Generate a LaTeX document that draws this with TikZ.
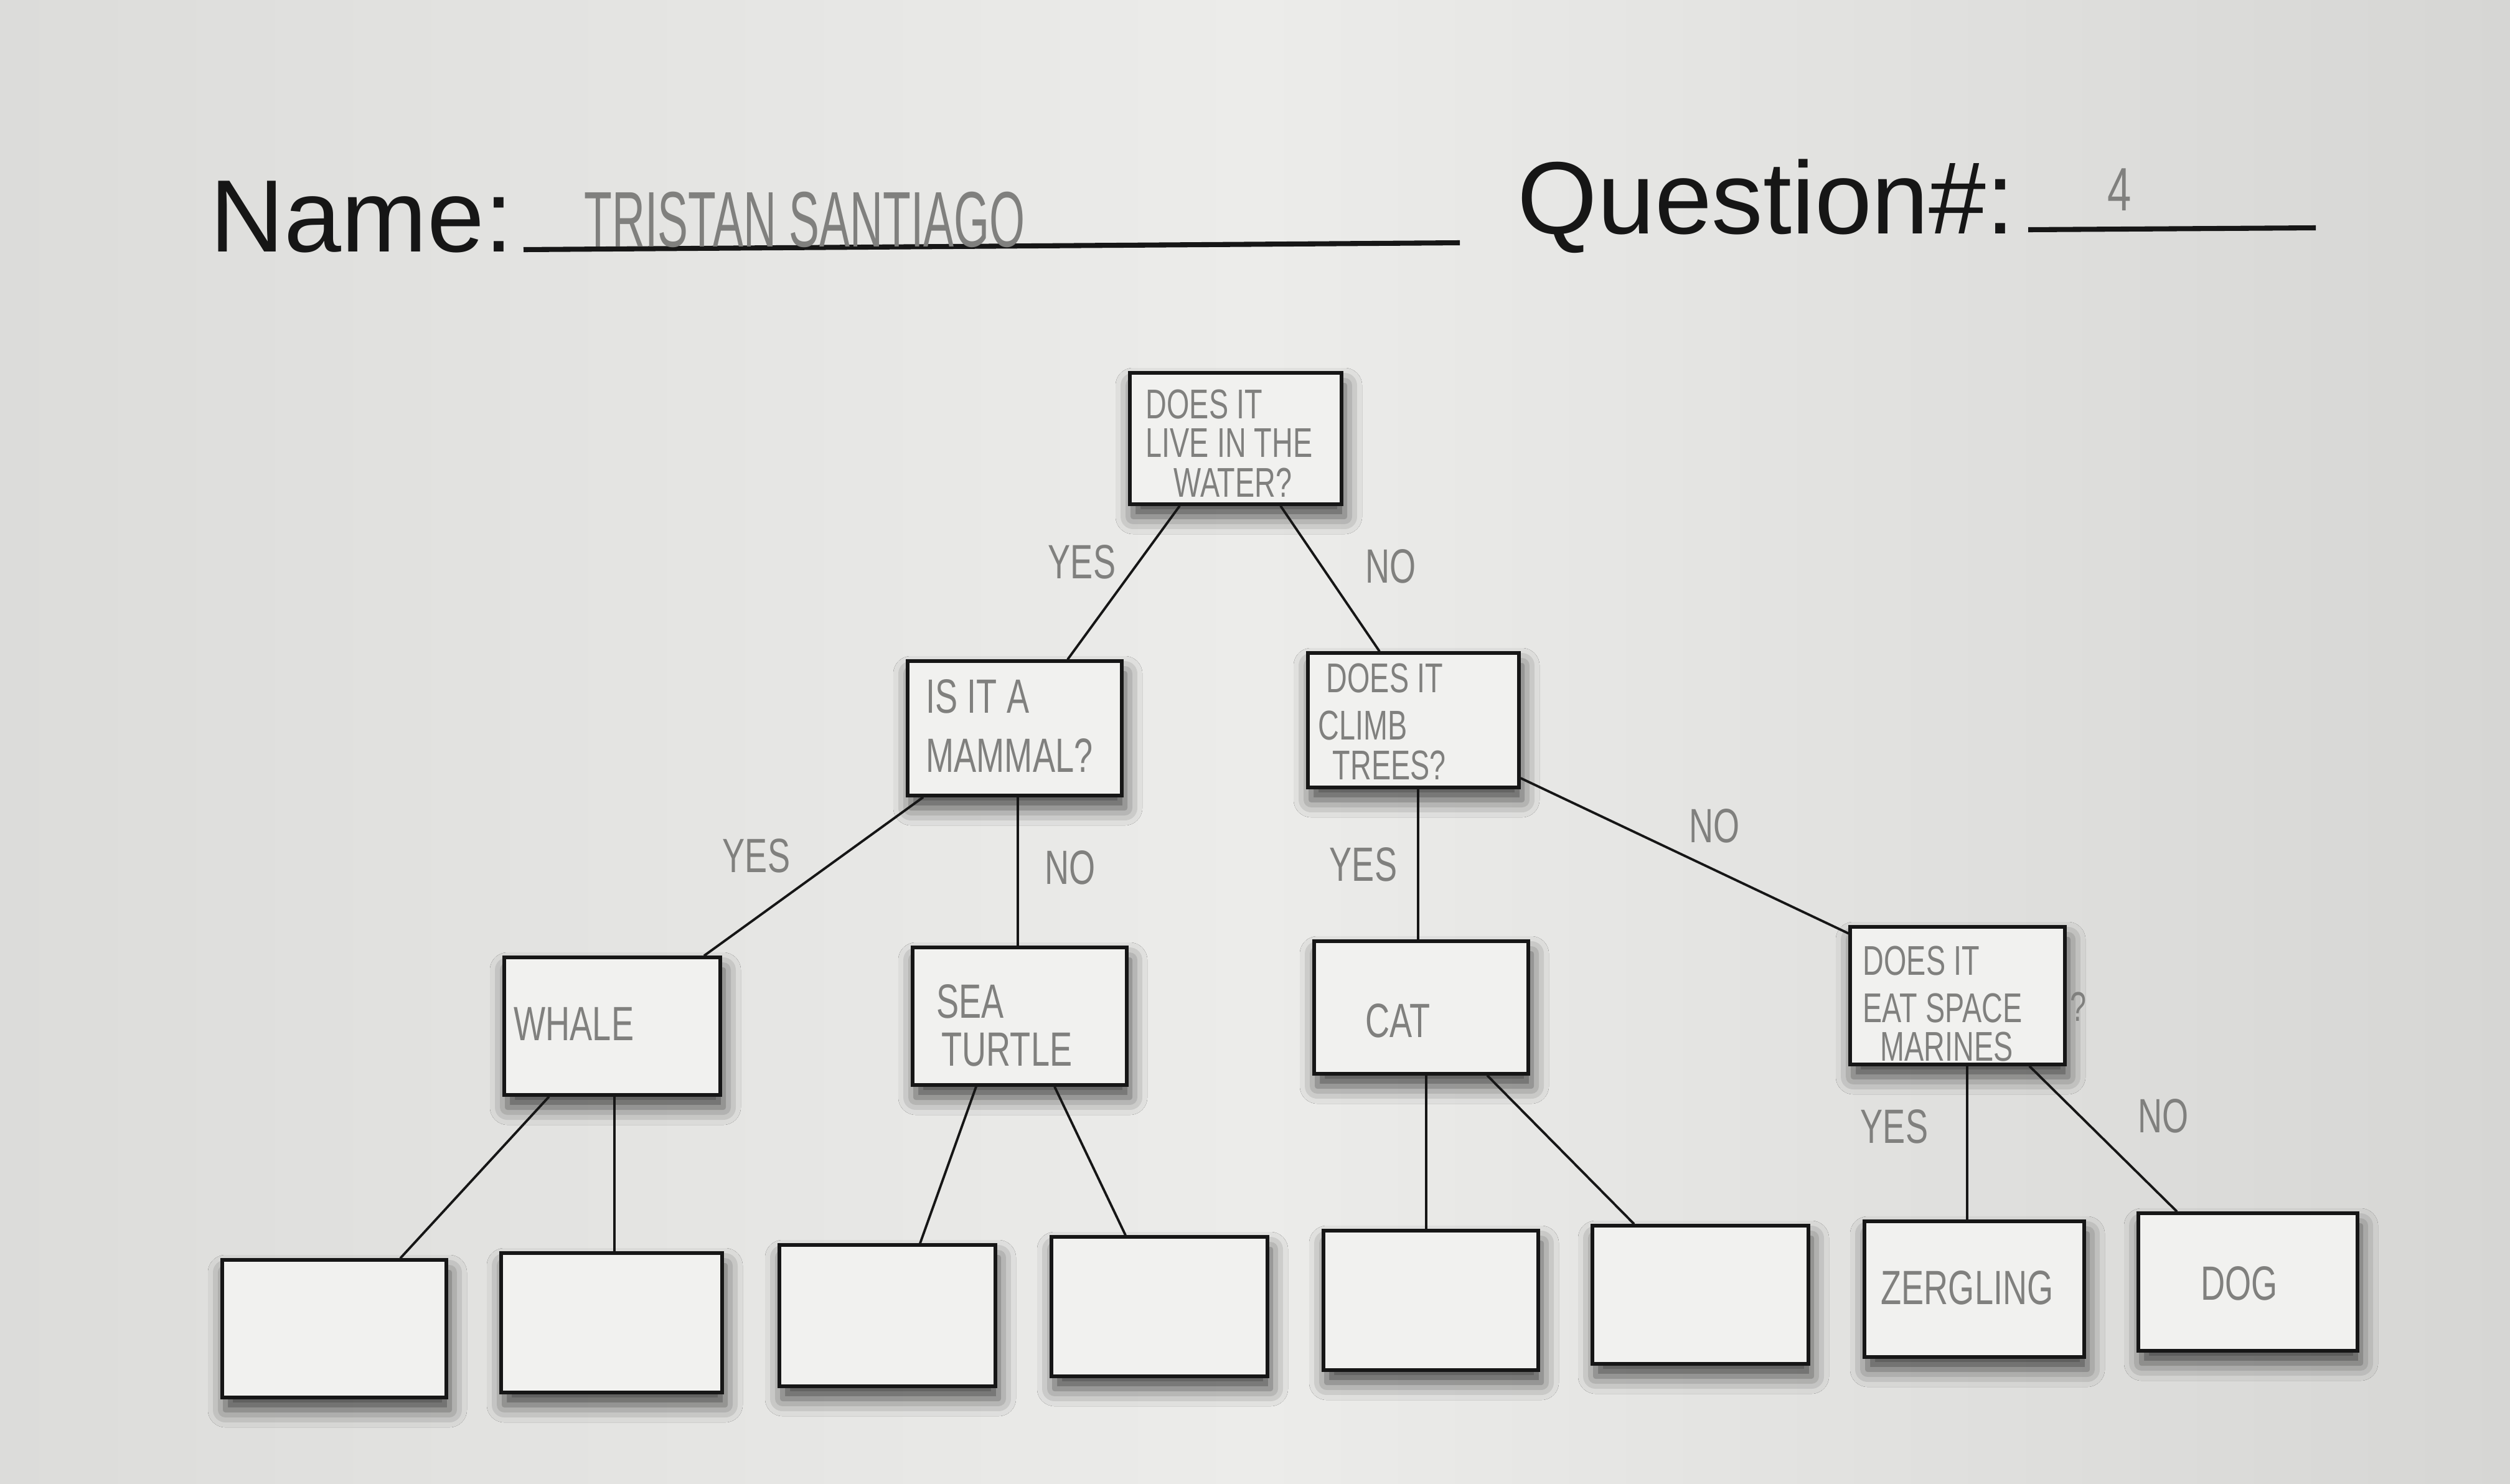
\documentclass[tikz,border=0pt]{standalone}
\usepackage{fontspec}
\setmainfont{Liberation Sans}
% pencil lettering: narrow, light strokes
\newfontfamily\hand[FakeStretch=0.7]{Liberation Sans}
\newfontfamily\handname[FakeStretch=0.58]{Liberation Sans}
\usetikzlibrary{calc,shadows.blur}

\definecolor{paperL}{RGB}{220,220,218}
\definecolor{paperM}{RGB}{236,236,234}
\definecolor{paperR}{RGB}{214,214,212}
\definecolor{boxfill}{RGB}{241,241,239}
\definecolor{ink}{RGB}{22,22,22}
\definecolor{pencil}{RGB}{128,128,126}

\tikzset{
  box/.style={draw=ink, line width=1.5pt, fill=boxfill, rectangle, inner sep=0pt,
    blur shadow={shadow xshift=0.05cm, shadow yshift=-0.2cm,
                 shadow blur radius=0.28cm, shadow opacity=70}},
  link/.style={draw=ink, line width=1.1pt},
  pen/.style={text=pencil, font=\hand\fontsize{22}{24}\selectfont, inner sep=0pt, anchor=base west},
  pensm/.style={pen, font=\hand\fontsize{19}{21}\selectfont},
  answer/.style={text=pencil, font=\hand\fontsize{22}{24}\selectfont, inner sep=0pt},
  formtext/.style={text=ink, font=\fontsize{47}{56}\selectfont, inner sep=0pt, anchor=base west},
  blank/.style={draw=ink, line width=2.3pt},
}

\begin{document}
\begin{tikzpicture}
% paper
\useasboundingbox (0,0) rectangle (40.32,-23.84);
\shade[left color=paperL, right color=paperR, middle color=paperM] (0,0) rectangle (40.32,-23.84);

% form header
\node[formtext] (namelbl) at (3.37,-4.04) {Name:};
\coordinate (nameA) at (8.41,-4.01);
\coordinate (nameB) at (23.45,-3.90);
\draw[blank] (nameA) -- (nameB);
\node[text=pencil, font=\handname\fontsize{36}{38}\selectfont, inner sep=0pt, anchor=base west]
  (studentname) at (9.38,-3.96) {TRISTAN SANTIAGO};

\node[formtext] (qlbl) at (24.37,-3.75) {Question\#:};
\coordinate (qA) at (32.58,-3.69);
\coordinate (qB) at (37.20,-3.66);
\draw[blank] (qA) -- (qB);
\node[pen, font=\hand\fontsize{28}{30}\selectfont] (qnum) at (33.85,-3.38) {4};

% question and answer boxes
\node[box, minimum width=3.40cm, minimum height=2.11cm] (root)   at (19.85,-7.045) {};
\node[box, minimum width=3.44cm, minimum height=2.16cm] (mammal) at (16.30,-11.70) {};
\node[box, minimum width=3.39cm, minimum height=2.16cm] (climb)  at (22.705,-11.57) {};
\node[box, minimum width=3.47cm, minimum height=2.21cm] (whale)  at (9.835,-16.485) {};
\node[box, minimum width=3.44cm, minimum height=2.21cm] (turtle) at (16.38,-16.325) {};
\node[box, minimum width=3.44cm, minimum height=2.13cm] (cat)    at (22.83,-16.185) {};
\node[box, minimum width=3.45cm, minimum height=2.21cm] (space)  at (31.445,-15.995) {};

\node[box, minimum width=3.60cm, minimum height=2.21cm] (leafA) at (5.37,-21.345) {};
\node[box, minimum width=3.55cm, minimum height=2.24cm] (leafB) at (9.825,-21.25) {};
\node[box, minimum width=3.47cm, minimum height=2.27cm] (leafC) at (14.255,-21.135) {};
\node[box, minimum width=3.47cm, minimum height=2.24cm] (leafD) at (18.625,-20.99) {};
\node[box, minimum width=3.45cm, minimum height=2.24cm] (leafE) at (22.985,-20.89) {};
\node[box, minimum width=3.47cm, minimum height=2.22cm] (leafF) at (27.315,-20.80) {};
\node[box, minimum width=3.53cm, minimum height=2.18cm] (zerg)  at (31.715,-20.71) {};
\node[box, minimum width=3.52cm, minimum height=2.21cm] (dog)   at (36.11,-20.595) {};

% connectors
\draw[link] ([xshift=-0.90cm]root.south) -- ([xshift=0.85cm]mammal.north);
\draw[link] ([xshift=0.72cm]root.south) -- ([xshift=-0.545cm]climb.north);
\draw[link] ([xshift=-1.47cm]mammal.south) -- ([xshift=1.475cm]whale.north);
\draw[link] ([xshift=0.05cm]mammal.south) -- ([xshift=-0.03cm]turtle.north);
\draw[link] ([xshift=0.075cm]climb.south) -- ([xshift=-0.05cm]cat.north);
\draw[link] ([yshift=-0.93cm]climb.east) -- ([yshift=1.0cm]space.west);
\draw[link] ([xshift=-1.015cm]whale.south) -- ([xshift=1.06cm]leafA.north);
\draw[link] ([xshift=0.035cm]whale.south) -- ([xshift=0.045cm]leafB.north);
\draw[link] ([xshift=-0.70cm]turtle.south) -- ([xshift=0.525cm]leafC.north);
\draw[link] ([xshift=0.56cm]turtle.south) -- ([xshift=-0.545cm]leafD.north);
\draw[link] ([xshift=0.08cm]cat.south) -- ([xshift=-0.075cm]leafE.north);
\draw[link] ([xshift=1.06cm]cat.south) -- ([xshift=-1.065cm]leafF.north);
\draw[link] ([xshift=0.155cm]space.south) -- ([xshift=-0.115cm]zerg.north);
\draw[link] ([xshift=1.155cm]space.south) -- ([xshift=-1.14cm]dog.north);

% pencil writing in the boxes
\node[pensm] (root1) at (18.40,-6.72) {DOES IT};
\node[pensm] (root2) at (18.40,-7.34) {LIVE IN THE};
\node[pensm] (root3) at (18.85,-7.98) {WATER?};

\node[pen] (mam1) at (14.87,-11.45) {IS IT A};
\node[pen] (mam2) at (14.87,-12.40) {MAMMAL?};

\node[pensm] (clb1) at (21.30,-11.12) {DOES IT};
\node[pensm] (clb2) at (21.17,-11.88) {CLIMB};
\node[pensm] (clb3) at (21.40,-12.52) {TREES?};

\node[pensm] (spc1) at (29.92,-15.66) {DOES IT};
\node[pensm] (spc2) at (29.92,-16.42) {EAT SPACE};
\node[pensm] (spc3) at (30.20,-17.04) {MARINES};
\node[pensm] (spcq) at (33.25,-16.40) {?};

\node[pen] (whalet) at (8.25,-16.71) {WHALE};
\node[pen] (turt1) at (15.04,-16.35) {SEA};
\node[pen] (turt2) at (15.12,-17.12) {TURTLE};
\node[pen] (catt) at (21.93,-16.66) {CAT};
\node[pen] (zergt) at (30.21,-20.95) {ZERGLING};
\node[pen] (dogt) at (35.35,-20.88) {DOG};

% branch answers
\node[answer] (yes1) at (17.38,-9.03) {YES};
\node[answer] (no1)  at (22.34,-9.10) {NO};
\node[answer] (yes2) at (12.15,-13.75) {YES};
\node[answer] (no2)  at (17.19,-13.94) {NO};
\node[answer] (yes3) at (21.90,-13.89) {YES};
\node[answer] (no3)  at (27.54,-13.27) {NO};
\node[answer] (yes4) at (30.43,-18.10) {YES};
\node[answer] (no4)  at (34.75,-17.93) {NO};
\end{tikzpicture}
\end{document}
